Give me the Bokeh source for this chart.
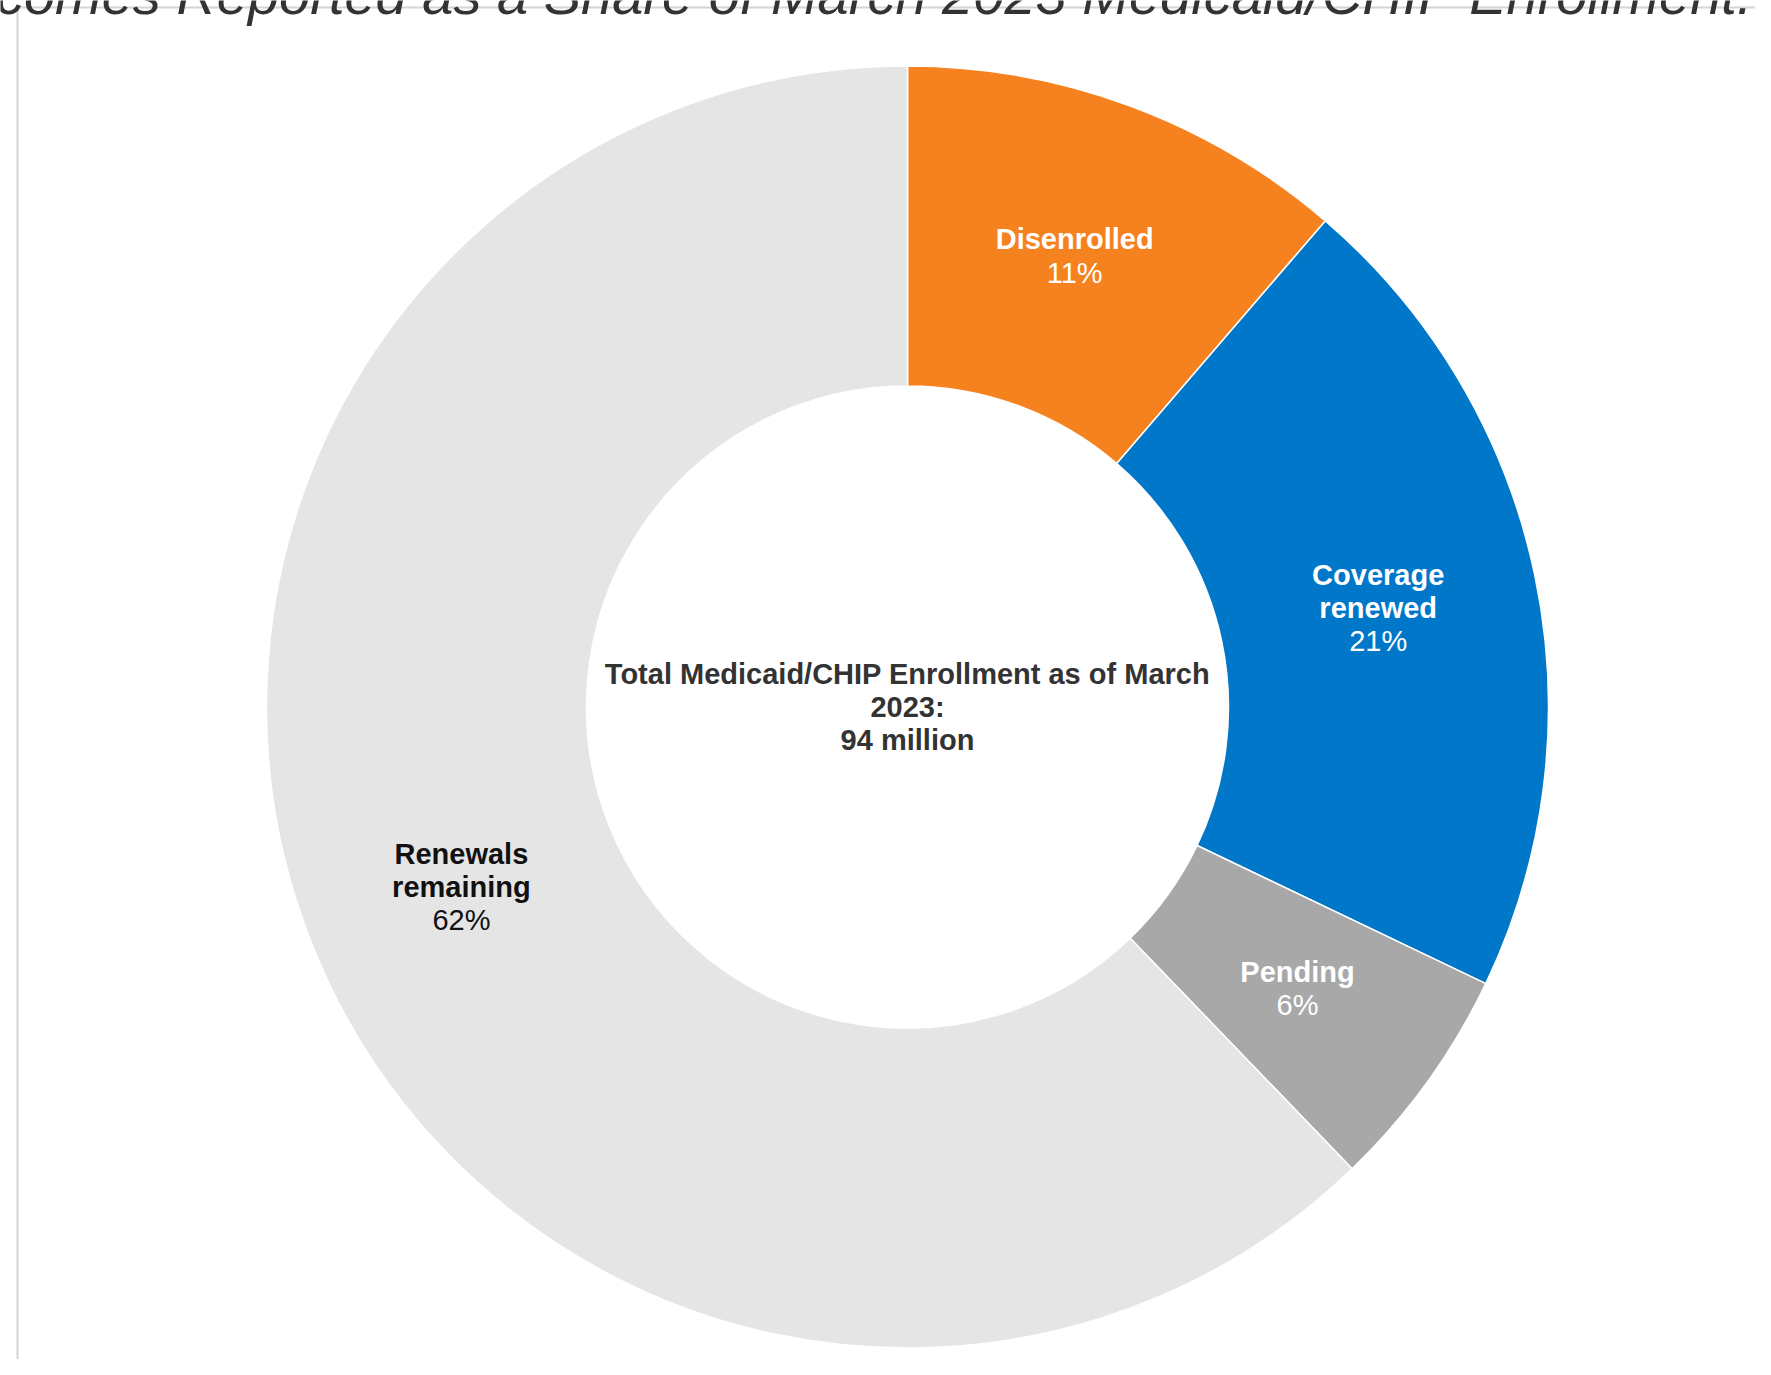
import numpy as np
from bokeh.plotting import figure
from bokeh.models import ColumnDataSource, Range1d
from bokeh.core.properties import value
from bokeh.embed import file_html
from bokeh.resources import INLINE

# ---------------- data ----------------
categories = ["Disenrolled", "Coverage renewed", "Pending", "Renewals remaining"]
label_lines = [["Disenrolled"], ["Coverage", "renewed"], ["Pending"], ["Renewals", "remaining"]]
shares = [11.3, 20.8, 5.7, 62.2]
pct_labels = ["11%", "21%", "6%", "62%"]
colors = ["#F5821F", "#0077C8", "#A8A8A8", "#E5E5E5"]
label_colors = ["#FFFFFF", "#FFFFFF", "#FFFFFF", "#111111"]
center_lines = ["Total Medicaid/CHIP Enrollment as of March", "2023:", "94 million"]
title = "Medicaid Renewal Outcomes Reported as a Share of March 2023 Medicaid/CHIP Enrollment:"

# ---------------- layout ----------------
W, H = 1755, 1359
CX, CY = 907, H - 706.5
R_OUT, R_IN = 641, 321
FONT = "Liberation Sans"
LINE_PITCH = 33.3

p = figure(width=W, height=H, output_backend="svg", toolbar_location=None,
           x_range=Range1d(0, W), y_range=Range1d(0, H), min_border=0)
p.axis.visible = False
p.grid.visible = False
p.outline_line_color = None
p.background_fill_color = "white"
p.border_fill_color = "white"

# frame lines
p.segment(x0=[17], y0=[H - 7], x1=[W], y1=[H - 7], line_color="#d4d4d4", line_width=2)
p.segment(x0=[17], y0=[0], x1=[17], y1=[H - 7], line_color="#d4d4d4", line_width=2)

# wedges (clockwise from 12 o'clock)
fr = np.array(shares, dtype=float) / sum(shares)
cum = np.concatenate([[0], np.cumsum(fr)])
start = np.pi / 2 - cum[:-1] * 2 * np.pi
end = np.pi / 2 - cum[1:] * 2 * np.pi
src = ColumnDataSource(dict(start=start, end=end, color=colors, cat=categories))
p.annular_wedge(x=CX, y=CY, inner_radius=R_IN, outer_radius=R_OUT,
                start_angle="start", end_angle="end", direction="clock",
                fill_color="color", line_color="white", line_width=1.5, source=src)

# slice labels at mid-ring, mid-angle
mid = np.pi / 2 - (cum[:-1] + fr / 2) * 2 * np.pi
rl = (R_OUT + R_IN) / 2
for i in range(len(categories)):
    lx = CX + rl * np.cos(mid[i])
    ly = CY + rl * np.sin(mid[i])
    lines = label_lines[i] + [pct_labels[i]]
    n = len(lines)
    for j, t in enumerate(lines):
        off = (j - (n - 1) / 2) * LINE_PITCH
        bold = j < n - 1
        p.text(x=[lx], y=[ly], text=[t], y_offset=off, text_align="center",
               text_baseline="middle", text_font=value(FONT),
               text_font_size="29px", text_font_style="bold" if bold else "normal",
               text_color=label_colors[i])

# center text
n = len(center_lines)
for j, t in enumerate(center_lines):
    off = (j - (n - 1) / 2) * LINE_PITCH
    p.text(x=[CX], y=[CY], text=[t], y_offset=off, text_align="center",
           text_baseline="middle", text_font=value(FONT), text_font_size="29px",
           text_font_style="bold", text_color="#333333")

# title (cut off at the top edge, as in the reference)
p.text(x=[W - 1], y=[H + 6], text=[title], text_align="right",
       text_baseline="alphabetic", text_font=value(FONT), text_font_size="56px",
       text_font_style="italic", text_color="#333333")

open("out.html", "w").write(file_html(p, INLINE))
